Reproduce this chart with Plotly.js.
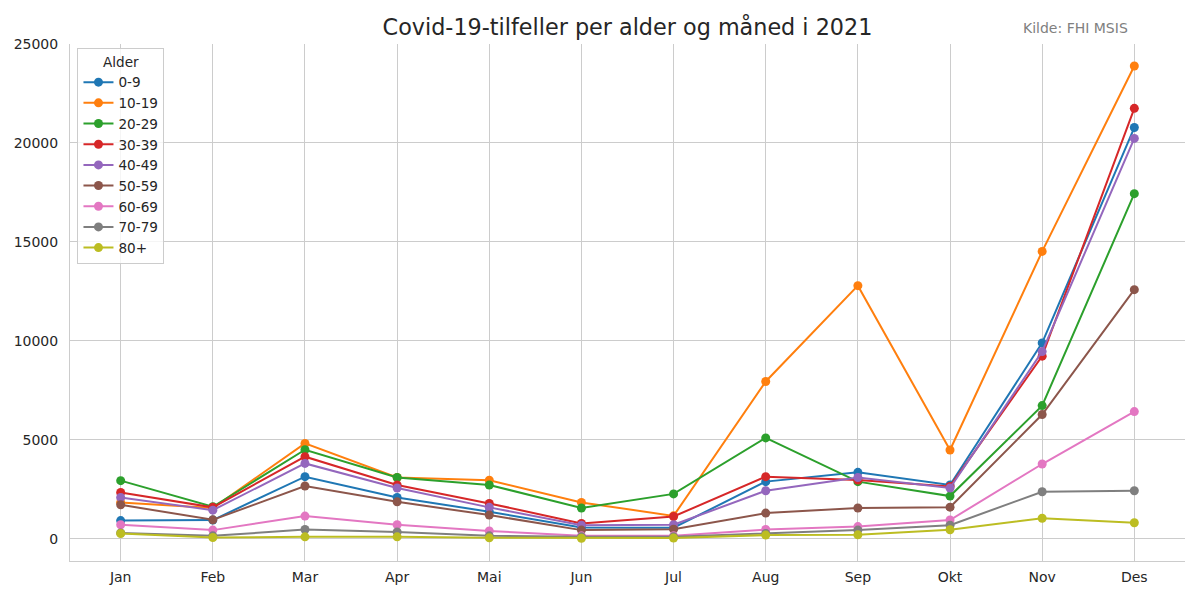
<!DOCTYPE html>
<html>
<head>
<meta charset="utf-8">
<script src="https://cdn.plot.ly/plotly-3.0.1.min.js"></script>
<style>html,body{margin:0;padding:0;background:#fff;}#chart{width:1200px;height:600px;}</style>
</head>
<body>
<div id="chart"></div>
<script>
const months = ["Jan","Feb","Mar","Apr","Mai","Jun","Jul","Aug","Sep","Okt","Nov","Des"];
const ageGroups = ["0-9","10-19","20-29","30-39","40-49","50-59","60-69","70-79","80+"];
const age0_9   = [920, 950, 3140, 2090, 1370, 570, 560, 2890, 3360, 2720, 9900, 20780];
const age10_19 = [1840, 1560, 4820, 3100, 2960, 1840, 1160, 7950, 12790, 4490, 14520, 23890];
const age20_29 = [2940, 1620, 4500, 3100, 2720, 1560, 2270, 5100, 2890, 2160, 6730, 17440];
const age30_39 = [2340, 1590, 4150, 2720, 1790, 780, 1130, 3140, 2970, 2650, 9230, 21750];
const age40_49 = [2090, 1450, 3810, 2570, 1590, 690, 710, 2430, 3100, 2570, 9460, 20230];
const age50_59 = [1720, 960, 2670, 1870, 1200, 440, 490, 1300, 1560, 1600, 6280, 12590];
const age60_69 = [710, 440, 1150, 710, 400, 150, 150, 470, 620, 950, 3780, 6430];
const age70_79 = [300, 150, 470, 350, 150, 100, 100, 270, 440, 690, 2380, 2430];
const age80p   = [270, 70, 100, 100, 50, 30, 40, 190, 200, 460, 1040, 810];
const seriesValues = [age0_9, age10_19, age20_29, age30_39, age40_49, age50_59, age60_69, age70_79, age80p];
const colors = ["#1f77b4","#ff7f0e","#2ca02c","#d62728","#9467bd","#8c564b","#e377c2","#7f7f7f","#bcbd22"];
const yTicks = [0, 5000, 10000, 15000, 20000, 25000];

const traces = ageGroups.map((g, i) => ({
  type: "scatter",
  mode: "lines+markers",
  name: g,
  x: months,
  y: seriesValues[i],
  line: {color: colors[i], width: 2},
  marker: {color: colors[i], size: 9}
}));

const font = "DejaVu Sans, sans-serif";
const layout = {
  width: 1200, height: 600,
  margin: {l: 70, r: 15, t: 44, b: 39},
  paper_bgcolor: "#ffffff",
  plot_bgcolor: "#ffffff",
  font: {family: font, size: 14, color: "#262626"},
  title: {
    text: "Covid-19-tilfeller per alder og måned i 2021",
    font: {family: font, size: 22.3, color: "#262626"},
    x: 0.5, xref: "paper", xanchor: "center",
    y: 1 - 27/600, yref: "container", yanchor: "middle"
  },
  xaxis: {
    type: "category",
    range: [-0.55, 11.55],
    showgrid: true, gridcolor: "#cccccc", gridwidth: 1,
    showline: true, linecolor: "#cccccc", linewidth: 1,
    ticks: "outside", ticklen: 3, tickcolor: "rgba(0,0,0,0)",
    tickfont: {family: font, size: 14, color: "#262626"},
    zeroline: false, fixedrange: true
  },
  yaxis: {
    range: [-1120, 25000],
    tickvals: yTicks,
    ticktext: yTicks.map(String),
    showgrid: true, gridcolor: "#cccccc", gridwidth: 1,
    showline: true, linecolor: "#cccccc", linewidth: 1,
    ticks: "outside", ticklen: 8, tickcolor: "rgba(0,0,0,0)",
    tickfont: {family: font, size: 14, color: "#262626"},
    zeroline: false, fixedrange: true
  },
  legend: {
    x: 0.0067, y: 0.992, xanchor: "left", yanchor: "top",
    bgcolor: "rgba(255,255,255,0.8)",
    bordercolor: "#cccccc", borderwidth: 1,
    font: {family: font, size: 13.6, color: "#262626"},
    title: {text: "Alder", side: "top center", font: {family: font, size: 13.6, color: "#262626"}},
    tracegroupgap: 0
  },
  showlegend: true,
  annotations: [{
    text: "Kilde: FHI MSIS",
    xref: "paper", yref: "paper",
    x: 0.951, y: 1 + 16/517,
    xanchor: "right", yanchor: "middle",
    showarrow: false,
    font: {family: font, size: 14, color: "#808080"}
  }]
};

Plotly.newPlot("chart", traces, layout, {displayModeBar: false, staticPlot: true});
</script>
</body>
</html>
